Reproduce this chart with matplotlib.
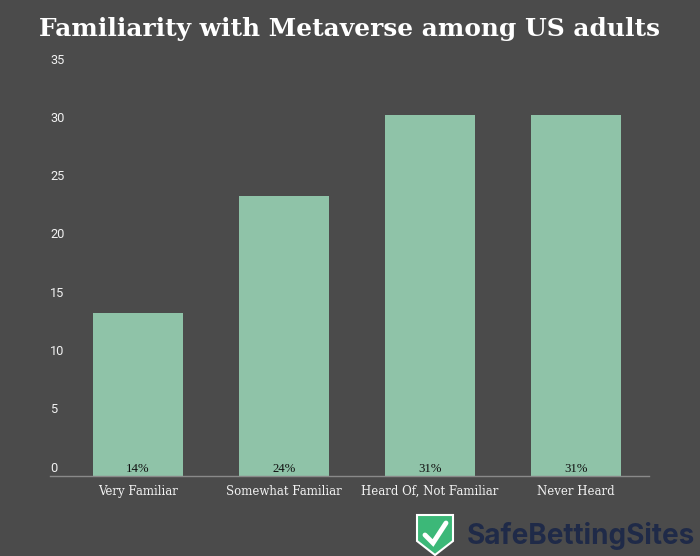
import matplotlib
matplotlib.use("Agg")
import matplotlib.pyplot as plt
from matplotlib.patches import Polygon
from matplotlib.transforms import ScaledTranslation

categories = ["Very Familiar", "Somewhat Familiar", "Heard Of, Not Familiar", "Never Heard"]
values = [14, 24, 31, 31]
value_labels = ["14%", "24%", "31%", "31%"]
y_ticks = [0, 5, 10, 15, 20, 25, 30, 35]

bg = "#4b4b4b"
bar_color = "#8fc3a8"
slab = "DejaVu Serif"

fig = plt.figure(figsize=(7, 5.56), dpi=100, facecolor=bg)
ax = fig.add_axes([50 / 700, 80 / 556, 599 / 700, 408 / 556], facecolor=bg)

ax.bar(range(len(values)), values, width=90 / 146, color=bar_color)
ax.set_xlim(-88 / 146, 3.5)
ax.set_ylim(0, 35)

for spine in ["top", "left", "right"]:
    ax.spines[spine].set_visible(False)
ax.spines["bottom"].set_color("#8a8a8a")
ax.spines["bottom"].set_linewidth(1)

ax.set_xticks(range(len(values)))
ax.set_xticklabels(categories, family=slab, fontsize=8.5, color="#f2f2f2", va="baseline")
ax.tick_params(axis="x", length=0, pad=13.7)

ax.set_yticks(y_ticks)
ax.tick_params(axis="y", length=0, pad=0, labelcolor="#f2f2f2", labelsize=9.2)
for lab in ax.get_yticklabels():
    lab.set_family("Roboto")
    lab.set_ha("left")
    lab.set_va("bottom")
    lab.set_transform(lab.get_transform() + ScaledTranslation(0, 1 / 72, fig.dpi_scale_trans))

for i, txt in enumerate(value_labels):
    ax.annotate(txt, (i, 0), xytext=(0, 2.7), textcoords="offset points", ha="center", va="baseline",
                family="Liberation Serif", fontsize=9.2, color="#111111")

fig.text(349.5 / 700, 1 - 29 / 556, "Familiarity with Metaverse among US adults", ha="center", va="center",
         family=slab, weight="bold", fontsize=17.95, color="white")

# logo, in pixel coordinates of the whole figure
logo = fig.add_axes([0, 0, 1, 1], facecolor="none")
logo.set_xlim(0, 700)
logo.set_ylim(556, 0)
logo.axis("off")
shield = [(417, 515), (453, 515), (453, 541), (435, 555), (417, 541)]
logo.add_patch(Polygon(shield, closed=True, facecolor="#3cb878", edgecolor="white", linewidth=1.5))
logo.plot([425, 433, 446], [535, 543, 523], color="white", linewidth=3.5, solid_capstyle="round", solid_joinstyle="miter")
logo.text(467, 536, "SafeBettingSites", ha="left", va="center", family="Inter", weight="bold",
          fontsize=20.1, color="#1f2a48")

fig.savefig("out.png", dpi=100, facecolor=bg)
